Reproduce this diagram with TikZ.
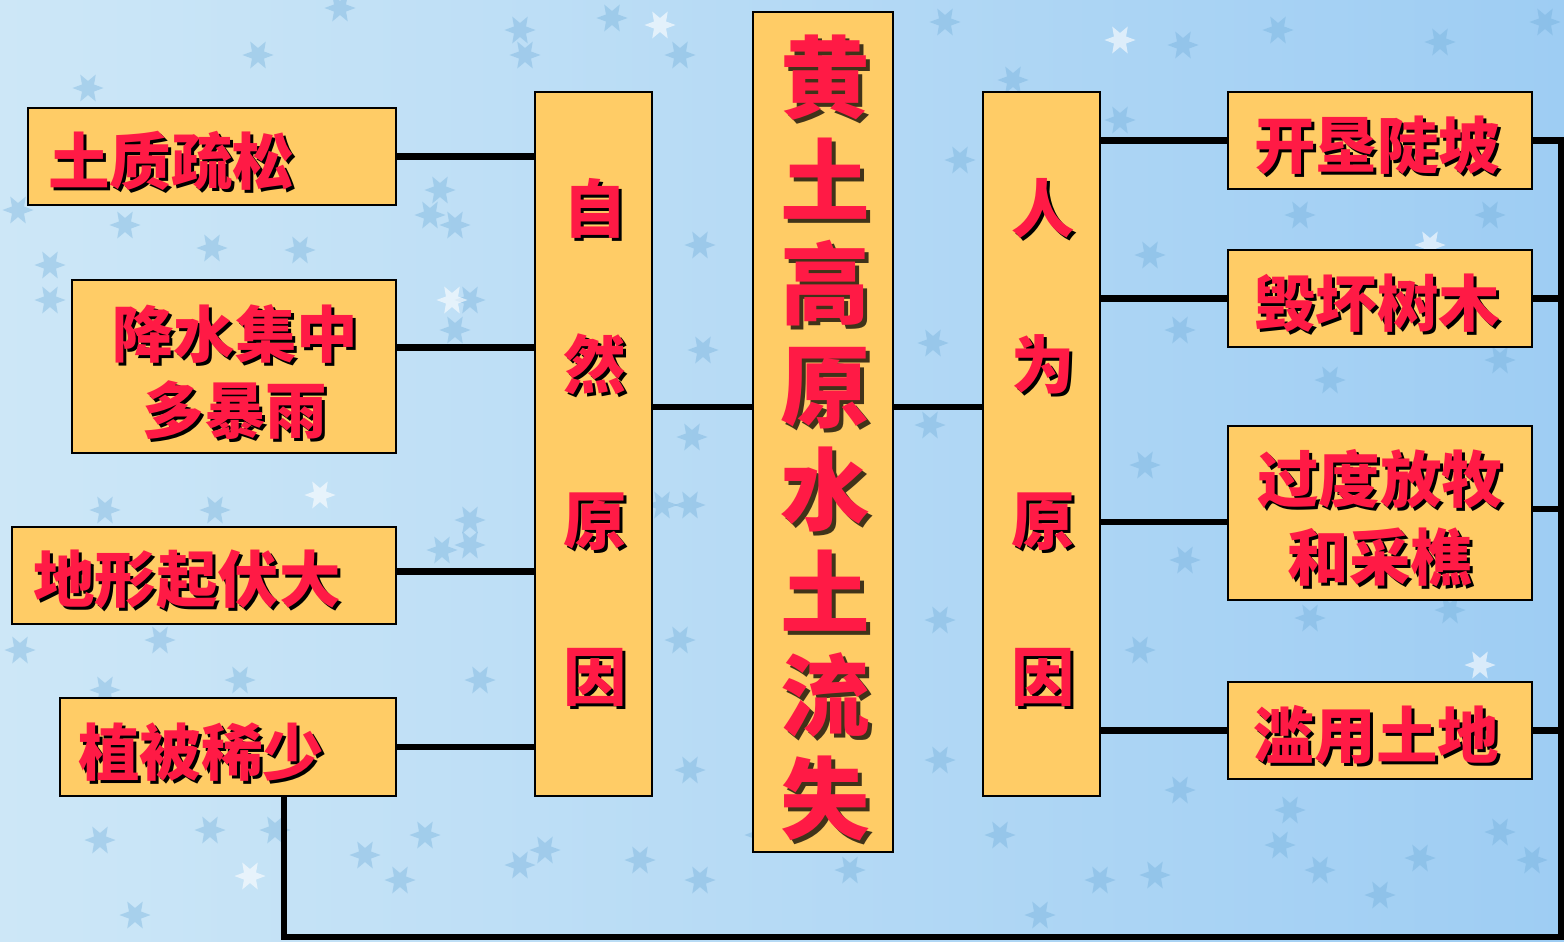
\documentclass[tikz,border=0pt]{standalone}
\usepackage{fontspec}
\newfontfamily\cjk{Noto Sans CJK SC}
\usetikzlibrary{fit,shapes.geometric}
\definecolor{boxfill}{HTML}{FFCC66}
\definecolor{txtred}{HTML}{FF1A45}
\definecolor{bgl}{HTML}{CDE7F7}
\definecolor{bgr}{HTML}{9ECDF3}
\definecolor{starc}{HTML}{6AAAD8}
\newcommand\lbl[5]{%
  \node[shd, anchor=#3, font=#4] (#1s) at ([shift={(3,3)}]#2) {#5};
  \node[redtxt, anchor=#3, font=#4] (#1) at (#2) {#5};
}
\begin{document}
\begin{tikzpicture}[x=0.02cm,y=-0.02cm,
  box/.style={draw=black, line width=1.2pt, fill=boxfill, inner sep=0pt},
  conn/.style={line width=3.9pt, draw=black},
  redtxt/.style={text=txtred, inner sep=0pt, align=center},
  shd/.style={text=black, inner sep=0pt, align=center},
  starshape/.style={star, star points=6, star point ratio=0.45, fill=starc, draw=none, opacity=0.35, minimum size=0.28cm, inner sep=0pt},
  whitestar/.style={starshape, fill=white, opacity=0.6}
]
\useasboundingbox (0,0) rectangle (1564,941);
\shade[left color=bgl, right color=bgr] (0,0) rectangle (1564,941);

% stars
\foreach \x/\y [count=\i] in {88/88,258/55,340/8,520/30,612/18,525/55,680/55,945/22,1013/80,1183/45,1440/42,1545/22,1278/30,
  440/190,455/225,430/215,212/248,300/250,125/225,50/265,50/300,18/210,470/300,455/330,
  703/350,692/437,933/343,930/425,700/245,690/505,662/505,215/510,105/510,470/520,470/545,442/550,
  160/640,240/680,105/690,20/650,345/720,480/680,
  100/840,210/830,135/915,275/830,365/855,400/880,520/865,545/850,425/835,640/860,700/880,760/835,850/870,
  1040/915,1100/880,1000/835,1155/875,1280/845,1320/870,1380/895,1420/858,1500/832,1532/860,
  1150/255,1180/330,1145/465,1185/560,1140/650,1300/215,1490/215,1330/380,1500/360,1310/618,1180/790,
  960/160,1120/120,940/620,940/760,680/640,690/770,1290/810,1450/610}
  \node[starshape] (st\i) at (\x,\y) {};
\foreach \x/\y [count=\i] in {660/25,452/300,320/495,250/876,1480/665,1430/245,1120/40}
  \node[whitestar] (ws\i) at (\x,\y) {};

% boxes
\node[box, fit={(28,108)(396,205)}] (ts) {};
\node[box, fit={(72,280)(396,453)}] (jx) {};
\node[box, fit={(12,527)(396,624)}] (dx) {};
\node[box, fit={(60,698)(396,796)}] (zb) {};
\node[box, fit={(535,92)(652,796)}] (zr) {};
\node[box, fit={(753,12)(893,852)}] (hz) {};
\node[box, fit={(983,92)(1100,796)}] (rw) {};
\node[box, fit={(1228,92)(1532,189)}] (kk) {};
\node[box, fit={(1228,250)(1532,347)}] (hh) {};
\node[box, fit={(1228,426)(1532,600)}] (gd) {};
\node[box, fit={(1228,682)(1532,779)}] (ly) {};

% texts
\def\sfont{\cjk\bfseries\fontsize{35}{43}\selectfont}
\lbl{tts}{48,161}{west}{\sfont}{土质疏松}
\lbl{tjx}{235,372}{center}{\sfont}{降水集中\\多暴雨}
\lbl{tdx}{33,580}{west}{\sfont}{地形起伏大}
\lbl{tzb}{78,752}{west}{\sfont}{植被稀少}
\lbl{tkk}{1377,145}{center}{\sfont}{开垦陡坡}
\lbl{thh}{1377,303}{center}{\sfont}{毁坏树木}
\lbl{tgd}{1380,518}{center}{\cjk\bfseries\fontsize{35}{44.5}\selectfont}{过度放牧\\和采樵}
\lbl{tly}{1376,735}{center}{\sfont}{滥用土地}
\lbl{tzr}{595,442}{center}{\cjk\bfseries\fontsize{36}{88.8}\selectfont}{自\\然\\原\\因}
\lbl{trw}{1043,442}{center}{\cjk\bfseries\fontsize{36}{88.8}\selectfont}{人\\为\\原\\因}
\node[shd, font=\cjk\bfseries\fontsize{51}{58.6}\selectfont, opacity=0.75] (thzs) at (829,442) {黄\\土\\高\\原\\水\\土\\流\\失};
\node[redtxt, font=\cjk\bfseries\fontsize{51}{58.6}\selectfont] (thz) at (825,438) {黄\\土\\高\\原\\水\\土\\流\\失};

% connectors left
\draw[conn] (ts.east) -- (ts.east -| zr.west);
\coordinate (c2) at ([shift={(0,-19)}]jx.east);
\draw[conn] (c2) -- (c2 -| zr.west);
\coordinate (c3) at ([shift={(0,-4)}]dx.east);
\draw[conn] (c3) -- (c3 -| zr.west);
\draw[conn] (zb.east) -- (zb.east -| zr.west);
% main
\coordinate (m1) at ([shift={(0,-37)}]zr.east);
\draw[conn] (m1) -- (m1 -| hz.west);
\draw[conn] (m1 -| hz.east) -- (m1 -| rw.west);
% right
\draw[conn] (rw.east |- kk.west) -- (kk.west);
\draw[conn] (rw.east |- hh.west) -- (hh.west);
\coordinate (c7) at ([shift={(0,9)}]gd.west);
\draw[conn] (rw.east |- c7) -- (c7);
\draw[conn] (rw.east |- ly.west) -- (ly.west);
% bus
\coordinate (rb) at (1561,937);
\coordinate (lb) at (284,937);
\draw[conn] (kk.east) -| (rb) -- (lb) -- (lb |- zb.south);
\draw[conn] (hh.east) -- (hh.east -| rb);
\draw[conn] ([shift={(0,-4)}]gd.east) -- ([shift={(0,-4)}]gd.east -| rb);
\draw[conn] (ly.east) -- (ly.east -| rb);
\end{tikzpicture}
\end{document}
